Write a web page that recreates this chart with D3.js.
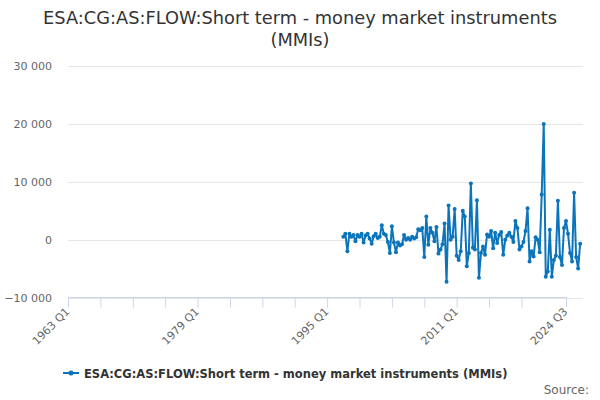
<!DOCTYPE html>
<html><head><meta charset="utf-8">
<script src="https://cdn.jsdelivr.net/npm/d3@7"></script>
<style>
body{margin:0;background:#fff;}
svg{font-family:"DejaVu Sans",Arial,sans-serif;}
</style></head>
<body><svg id="c" width="600" height="400"></svg>
<script>
const titleLines = ["ESA:CG:AS:FLOW:Short term - money market instruments", "(MMIs)"];
const seriesName = "ESA:CG:AS:FLOW:Short term - money market instruments (MMIs)";
const startYear = 1995, startQ = 1;
const values = [
 500, 1000, -2000, 1000, 500, 800, -300, 800, 500, 1000,
 -500, 700, 1000, 200, -700, 600, 1000, 300, 500, 2500,
 1000, 800, -400, -2300, 2300, -500, -2200, -500, -1000, -800,
 800, 0, 300, 0, 500, 200, 400, 1800, 1600, 2000,
 -3000, 4000, -900, 2000, 1200, -300, 2200, -2400, -1700, -800,
 2800, -7300, 5900, 0, 500, 5300, -2800, -3500, -2000, 5000,
 4000, -4600, -2300, 9700, -1400, -1700, 6800, -6600, -2300, -1200,
 -2600, 900, 500, 1500, -1500, 1200, -600, 800, 1300, -2600,
 0, 700, 1200, 500, -400, 3200, 2000, -1700, -1200, -400,
 1500, 5400, -3800, -2000, -2900, 400, 0, -2200, 7800, 20000,
 -6400, -5500, 1700, -6400, -3500, -2800, 6700, -3000, -4400, 2000,
 3200, 1000, -2300, -3800, 8100, -3000, -5000, -700
];
// quarter categories for each value
const quarters = values.map((v, i) => {
  const n = (startQ - 1) + i;
  return (startYear + Math.floor(n / 4)) + " Q" + (n % 4 + 1);
});
const yTicks = [-10000, 0, 10000, 20000, 30000];
const xTickQuarters = [0,16,32,48,64,80,96,112,128,144,160,176,192,208,224,246]; // quarters since 1963 Q1
const xLabelMap = {0:"1963 Q1", 64:"1979 Q1", 128:"1995 Q1", 192:"2011 Q1", 246:"2024 Q3"};
const labelShift = 8; // label positions sit 8 quarters left of the plotted data

const svg = d3.select("#c");
const color = "#0b74bb";

const x = d3.scaleLinear().domain([0, 246]).range([68, 566]);
const y = d3.scaleLinear().domain([-10000, 30000]).range([297.5, 66]);
const baseIndex = (startYear - 1963) * 4 + (startQ - 1);

// title
svg.append("g").selectAll("text").data(titleLines).join("text")
  .attr("x", 300).attr("y", (d, i) => 24 + i * 22)
  .attr("text-anchor", "middle").attr("fill", "#333").style("font-size", "17.8px")
  .text(d => d);

// gridlines
svg.append("g").selectAll("line").data(yTicks).join("line")
  .attr("x1", 68).attr("x2", 583)
  .attr("y1", d => Math.round(y(d)) + 0.5).attr("y2", d => Math.round(y(d)) + 0.5)
  .attr("stroke", "#e6e6e6").attr("stroke-width", 1);

// y labels
svg.append("g").selectAll("text").data(yTicks).join("text")
  .attr("x", 52).attr("y", d => y(d) + 4)
  .attr("text-anchor", "end").attr("fill", "#666").style("font-size", "11px")
  .text(d => d3.format(",")(d).replace(/,/g, " "));

// x axis
const xAxis = d3.axisBottom(x).tickValues(xTickQuarters).tickSize(10)
  .tickFormat(d => xLabelMap[d] || "");
const gx = svg.append("g").attr("transform", "translate(0,297.5)").call(xAxis);
gx.select(".domain").attr("stroke", "#ccd6eb").attr("d", "M68,0H567");
gx.selectAll(".tick line").attr("stroke", "#ccd6eb");
gx.selectAll(".tick text")
  .attr("fill", "#666").style("font-size", "11px").style("font-family", "DejaVu Sans, Arial, sans-serif")
  .attr("text-anchor", "end")
  .attr("transform", "translate(-1,12) rotate(-45)")
  .attr("dy", "0.35em").attr("y", 0).attr("x", 0);

// series
const pts = values.map((v, i) => ({q: baseIndex + i + labelShift, v, label: quarters[i]}));
const line = d3.line().x(d => x(d.q)).y(d => y(d.v));
svg.append("path").datum(pts).attr("d", line)
  .attr("fill", "none").attr("stroke", color).attr("stroke-width", 2)
  .attr("stroke-linejoin", "round");
svg.append("g").selectAll("circle").data(pts).join("circle")
  .attr("cx", d => x(d.q)).attr("cy", d => y(d.v)).attr("r", 2).attr("fill", color);

// legend
const lg = svg.append("g").attr("transform", "translate(63,373)");
lg.append("line").attr("x1", 0).attr("x2", 16).attr("y1", 0).attr("y2", 0)
  .attr("stroke", color).attr("stroke-width", 2);
lg.append("circle").attr("cx", 8).attr("cy", 0).attr("r", 2.5).attr("fill", color);
lg.append("text").attr("x", 21).attr("y", 4.5).attr("fill", "#333")
  .style("font-size", "11.5px").style("font-weight", "bold").text(seriesName);

// source
svg.append("text").attr("x", 589).attr("y", 394).attr("text-anchor", "end")
  .attr("fill", "#666").style("font-size", "12px").text("Source:");
</script></body></html>
